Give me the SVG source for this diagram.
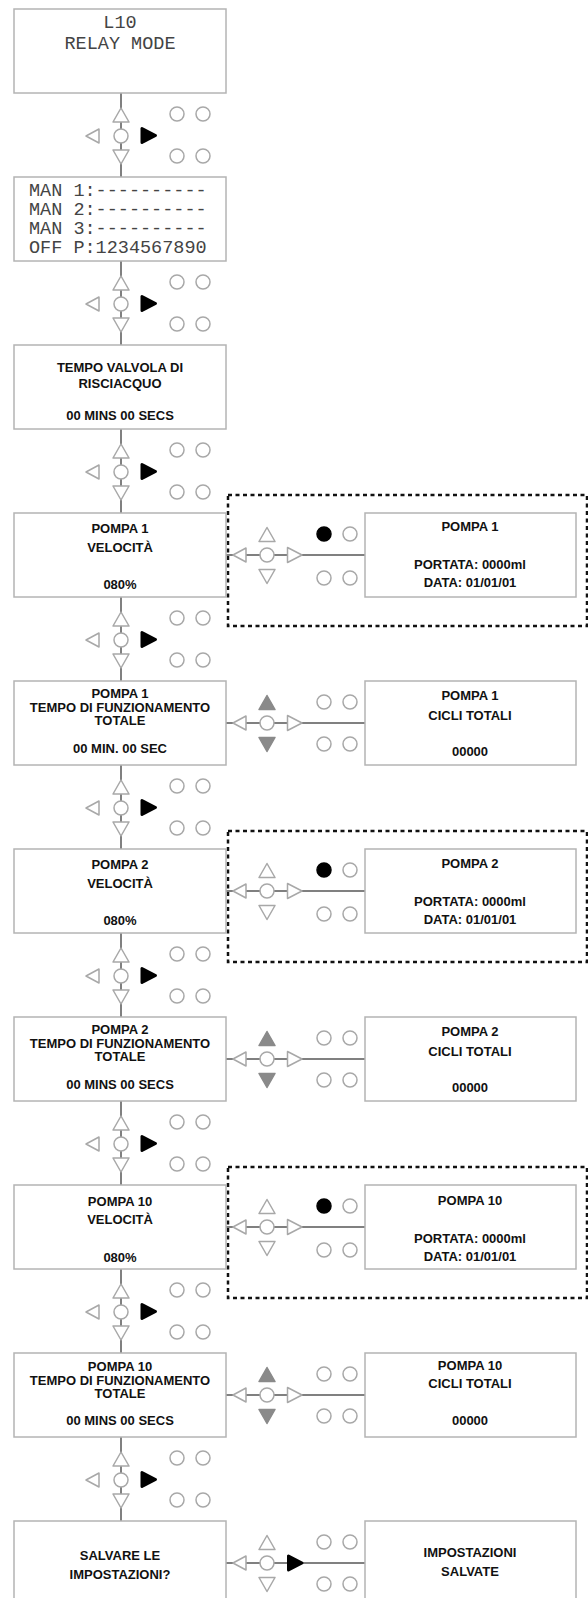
<svg xmlns="http://www.w3.org/2000/svg" xmlns:xlink="http://www.w3.org/1999/xlink" width="588" height="1598" viewBox="0 0 588 1598">
<style>
.box{fill:#fff;stroke:#b4b4b4;stroke-width:1.5}
.dot{fill:none;stroke:#111;stroke-width:2.5;stroke-dasharray:4 3.5}
.ln{stroke:#808080;stroke-width:2;fill:none}
.o{fill:#fff;stroke:#a8a8a8;stroke-width:1.5;stroke-linejoin:round}
.k{fill:#000;stroke:#000;stroke-width:1.5;stroke-linejoin:round}
.kb{fill:#000;stroke:#000;stroke-width:3;stroke-linejoin:round}
.g{fill:#8a8a8a;stroke:#8a8a8a;stroke-width:1.5;stroke-linejoin:round}
.t{font-family:"Liberation Sans",Arial,sans-serif;font-weight:bold;font-size:13px;fill:#111;text-anchor:middle}
.m{font-family:"Liberation Mono","Courier New",monospace;font-size:18.5px;fill:#444;text-anchor:middle}
.ml{font-family:"Liberation Mono","Courier New",monospace;font-size:18.5px;fill:#444}
</style>
<defs>
<path id="tu" d="M0,-7.5 L8,6.5 L-8,6.5 Z"/>
<path id="td" d="M0,7.5 L8,-6.5 L-8,-6.5 Z"/>
<path id="tl" d="M-7,0 L6,-7 L6,7 Z"/>
<path id="tr" d="M7.5,0 L-7,-7.5 L-7,7.5 Z"/>
<path id="trb" d="M7,0 L-6.5,-7 L-6.5,7 Z"/>
<circle id="c" r="7"/>
</defs>

<g id="connectors">
<line class="ln" x1="121" y1="93" x2="121" y2="177"/>
<line class="ln" x1="121" y1="261" x2="121" y2="345"/>
<line class="ln" x1="121" y1="429" x2="121" y2="513"/>
<line class="ln" x1="121" y1="597" x2="121" y2="681"/>
<line class="ln" x1="121" y1="765" x2="121" y2="849"/>
<line class="ln" x1="121" y1="933" x2="121" y2="1017"/>
<line class="ln" x1="121" y1="1101" x2="121" y2="1185"/>
<line class="ln" x1="121" y1="1269" x2="121" y2="1353"/>
<line class="ln" x1="121" y1="1437" x2="121" y2="1521"/>
<line class="ln" x1="226" y1="555" x2="365" y2="555"/>
<line class="ln" x1="226" y1="723" x2="365" y2="723"/>
<line class="ln" x1="226" y1="891" x2="365" y2="891"/>
<line class="ln" x1="226" y1="1059" x2="365" y2="1059"/>
<line class="ln" x1="226" y1="1227" x2="365" y2="1227"/>
<line class="ln" x1="226" y1="1395" x2="365" y2="1395"/>
<line class="ln" x1="226" y1="1563" x2="365" y2="1563"/>
</g>

<g id="dotted-groups">
<rect class="dot" x="228" y="495" width="359" height="131"/>
<rect class="dot" x="228" y="831" width="359" height="131"/>
<rect class="dot" x="228" y="1167" width="359" height="131"/>
</g>

<g id="keypads-vertical">
<g id="kv1" transform="translate(0,93)">
<use href="#tu" class="o" x="121" y="22.5"/><use href="#c" class="o" x="121" y="43"/><use href="#td" class="o" x="121" y="63.5"/>
<use href="#tl" class="o" x="93" y="43"/><use href="#trb" class="kb" x="148.5" y="42.5"/>
<use href="#c" class="o" x="177" y="21"/><use href="#c" class="o" x="203" y="21"/><use href="#c" class="o" x="177" y="63"/><use href="#c" class="o" x="203" y="63"/>
</g>
<g id="kv2" transform="translate(0,261)">
<use href="#tu" class="o" x="121" y="22.5"/><use href="#c" class="o" x="121" y="43"/><use href="#td" class="o" x="121" y="63.5"/>
<use href="#tl" class="o" x="93" y="43"/><use href="#trb" class="kb" x="148.5" y="42.5"/>
<use href="#c" class="o" x="177" y="21"/><use href="#c" class="o" x="203" y="21"/><use href="#c" class="o" x="177" y="63"/><use href="#c" class="o" x="203" y="63"/>
</g>
<g id="kv3" transform="translate(0,429)">
<use href="#tu" class="o" x="121" y="22.5"/><use href="#c" class="o" x="121" y="43"/><use href="#td" class="o" x="121" y="63.5"/>
<use href="#tl" class="o" x="93" y="43"/><use href="#trb" class="kb" x="148.5" y="42.5"/>
<use href="#c" class="o" x="177" y="21"/><use href="#c" class="o" x="203" y="21"/><use href="#c" class="o" x="177" y="63"/><use href="#c" class="o" x="203" y="63"/>
</g>
<g id="kv4" transform="translate(0,597)">
<use href="#tu" class="o" x="121" y="22.5"/><use href="#c" class="o" x="121" y="43"/><use href="#td" class="o" x="121" y="63.5"/>
<use href="#tl" class="o" x="93" y="43"/><use href="#trb" class="kb" x="148.5" y="42.5"/>
<use href="#c" class="o" x="177" y="21"/><use href="#c" class="o" x="203" y="21"/><use href="#c" class="o" x="177" y="63"/><use href="#c" class="o" x="203" y="63"/>
</g>
<g id="kv5" transform="translate(0,765)">
<use href="#tu" class="o" x="121" y="22.5"/><use href="#c" class="o" x="121" y="43"/><use href="#td" class="o" x="121" y="63.5"/>
<use href="#tl" class="o" x="93" y="43"/><use href="#trb" class="kb" x="148.5" y="42.5"/>
<use href="#c" class="o" x="177" y="21"/><use href="#c" class="o" x="203" y="21"/><use href="#c" class="o" x="177" y="63"/><use href="#c" class="o" x="203" y="63"/>
</g>
<g id="kv6" transform="translate(0,933)">
<use href="#tu" class="o" x="121" y="22.5"/><use href="#c" class="o" x="121" y="43"/><use href="#td" class="o" x="121" y="63.5"/>
<use href="#tl" class="o" x="93" y="43"/><use href="#trb" class="kb" x="148.5" y="42.5"/>
<use href="#c" class="o" x="177" y="21"/><use href="#c" class="o" x="203" y="21"/><use href="#c" class="o" x="177" y="63"/><use href="#c" class="o" x="203" y="63"/>
</g>
<g id="kv7" transform="translate(0,1101)">
<use href="#tu" class="o" x="121" y="22.5"/><use href="#c" class="o" x="121" y="43"/><use href="#td" class="o" x="121" y="63.5"/>
<use href="#tl" class="o" x="93" y="43"/><use href="#trb" class="kb" x="148.5" y="42.5"/>
<use href="#c" class="o" x="177" y="21"/><use href="#c" class="o" x="203" y="21"/><use href="#c" class="o" x="177" y="63"/><use href="#c" class="o" x="203" y="63"/>
</g>
<g id="kv8" transform="translate(0,1269)">
<use href="#tu" class="o" x="121" y="22.5"/><use href="#c" class="o" x="121" y="43"/><use href="#td" class="o" x="121" y="63.5"/>
<use href="#tl" class="o" x="93" y="43"/><use href="#trb" class="kb" x="148.5" y="42.5"/>
<use href="#c" class="o" x="177" y="21"/><use href="#c" class="o" x="203" y="21"/><use href="#c" class="o" x="177" y="63"/><use href="#c" class="o" x="203" y="63"/>
</g>
<g id="kv9" transform="translate(0,1437)">
<use href="#tu" class="o" x="121" y="22.5"/><use href="#c" class="o" x="121" y="43"/><use href="#td" class="o" x="121" y="63.5"/>
<use href="#tl" class="o" x="93" y="43"/><use href="#trb" class="kb" x="148.5" y="42.5"/>
<use href="#c" class="o" x="177" y="21"/><use href="#c" class="o" x="203" y="21"/><use href="#c" class="o" x="177" y="63"/><use href="#c" class="o" x="203" y="63"/>
</g>
</g>

<g id="keypads-horizontal">
<g id="kh3" transform="translate(0,555)">
<use href="#tl" class="o" x="240" y="0"/><use href="#c" class="o" x="267" y="0"/><use href="#tr" class="o" x="294.5" y="0"/>
<use href="#tu" class="o" x="267" y="-20"/><use href="#td" class="o" x="267" y="21"/>
<use href="#c" class="k" x="324" y="-21"/><use href="#c" class="o" x="350" y="-21"/><use href="#c" class="o" x="324" y="23"/><use href="#c" class="o" x="350" y="23"/>
</g>
<g id="kh4" transform="translate(0,723)">
<use href="#tl" class="o" x="240" y="0"/><use href="#c" class="o" x="267" y="0"/><use href="#tr" class="o" x="294.5" y="0"/>
<use href="#tu" class="g" x="267" y="-20"/><use href="#td" class="g" x="267" y="21"/>
<use href="#c" class="o" x="324" y="-21"/><use href="#c" class="o" x="350" y="-21"/><use href="#c" class="o" x="324" y="21"/><use href="#c" class="o" x="350" y="21"/>
</g>
<g id="kh5" transform="translate(0,891)">
<use href="#tl" class="o" x="240" y="0"/><use href="#c" class="o" x="267" y="0"/><use href="#tr" class="o" x="294.5" y="0"/>
<use href="#tu" class="o" x="267" y="-20"/><use href="#td" class="o" x="267" y="21"/>
<use href="#c" class="k" x="324" y="-21"/><use href="#c" class="o" x="350" y="-21"/><use href="#c" class="o" x="324" y="23"/><use href="#c" class="o" x="350" y="23"/>
</g>
<g id="kh6" transform="translate(0,1059)">
<use href="#tl" class="o" x="240" y="0"/><use href="#c" class="o" x="267" y="0"/><use href="#tr" class="o" x="294.5" y="0"/>
<use href="#tu" class="g" x="267" y="-20"/><use href="#td" class="g" x="267" y="21"/>
<use href="#c" class="o" x="324" y="-21"/><use href="#c" class="o" x="350" y="-21"/><use href="#c" class="o" x="324" y="21"/><use href="#c" class="o" x="350" y="21"/>
</g>
<g id="kh7" transform="translate(0,1227)">
<use href="#tl" class="o" x="240" y="0"/><use href="#c" class="o" x="267" y="0"/><use href="#tr" class="o" x="294.5" y="0"/>
<use href="#tu" class="o" x="267" y="-20"/><use href="#td" class="o" x="267" y="21"/>
<use href="#c" class="k" x="324" y="-21"/><use href="#c" class="o" x="350" y="-21"/><use href="#c" class="o" x="324" y="23"/><use href="#c" class="o" x="350" y="23"/>
</g>
<g id="kh8" transform="translate(0,1395)">
<use href="#tl" class="o" x="240" y="0"/><use href="#c" class="o" x="267" y="0"/><use href="#tr" class="o" x="294.5" y="0"/>
<use href="#tu" class="g" x="267" y="-20"/><use href="#td" class="g" x="267" y="21"/>
<use href="#c" class="o" x="324" y="-21"/><use href="#c" class="o" x="350" y="-21"/><use href="#c" class="o" x="324" y="21"/><use href="#c" class="o" x="350" y="21"/>
</g>
<g id="kh9" transform="translate(0,1563)">
<use href="#tl" class="o" x="240" y="0"/><use href="#c" class="o" x="267" y="0"/><use href="#trb" class="kb" x="295" y="0"/>
<use href="#tu" class="o" x="267" y="-20"/><use href="#td" class="o" x="267" y="21"/>
<use href="#c" class="o" x="324" y="-21"/><use href="#c" class="o" x="350" y="-21"/><use href="#c" class="o" x="324" y="21"/><use href="#c" class="o" x="350" y="21"/>
</g>
</g>

<g id="n-relay-mode">
<rect class="box" x="14" y="9" width="212" height="84"/>
<text class="m" x="120" y="28">L10</text>
<text class="m" x="120" y="49">RELAY MODE</text>
</g>
<g id="n-man">
<rect class="box" x="14" y="177" width="212" height="84"/>
<text class="ml" x="29" y="196">MAN 1:----------</text>
<text class="ml" x="29" y="215">MAN 2:----------</text>
<text class="ml" x="29" y="234">MAN 3:----------</text>
<text class="ml" x="29" y="253">OFF P:1234567890</text>
</g>
<g id="n-risciacquo">
<rect class="box" x="14" y="345" width="212" height="84"/>
<text class="t" x="120" y="372">TEMPO VALVOLA DI</text>
<text class="t" x="120" y="388">RISCIACQUO</text>
<text class="t" x="120" y="420">00 MINS 00 SECS</text>
</g>
<g id="n-p1-vel">
<rect class="box" x="14" y="513" width="212" height="84"/>
<text class="t" x="120" y="533">POMPA 1</text>
<text class="t" x="120" y="552">VELOCITÀ</text>
<text class="t" x="120" y="589">080%</text>
</g>
<g id="n-p1-portata">
<rect class="box" x="365" y="513" width="211" height="84"/>
<text class="t" x="470" y="531">POMPA 1</text>
<text class="t" x="470" y="569">PORTATA: 0000ml</text>
<text class="t" x="470" y="587">DATA: 01/01/01</text>
</g>
<g id="n-p1-tempo">
<rect class="box" x="14" y="681" width="212" height="84"/>
<text class="t" x="120" y="698">POMPA 1</text>
<text class="t" x="120" y="712">TEMPO DI FUNZIONAMENTO</text>
<text class="t" x="120" y="725">TOTALE</text>
<text class="t" x="120" y="753">00 MIN. 00 SEC</text>
</g>
<g id="n-p1-cicli">
<rect class="box" x="365" y="681" width="211" height="84"/>
<text class="t" x="470" y="700">POMPA 1</text>
<text class="t" x="470" y="720">CICLI TOTALI</text>
<text class="t" x="470" y="756">00000</text>
</g>
<g id="n-p2-vel">
<rect class="box" x="14" y="849" width="212" height="84"/>
<text class="t" x="120" y="869">POMPA 2</text>
<text class="t" x="120" y="888">VELOCITÀ</text>
<text class="t" x="120" y="925">080%</text>
</g>
<g id="n-p2-portata">
<rect class="box" x="365" y="849" width="211" height="84"/>
<text class="t" x="470" y="868">POMPA 2</text>
<text class="t" x="470" y="906">PORTATA: 0000ml</text>
<text class="t" x="470" y="924">DATA: 01/01/01</text>
</g>
<g id="n-p2-tempo">
<rect class="box" x="14" y="1017" width="212" height="84"/>
<text class="t" x="120" y="1034">POMPA 2</text>
<text class="t" x="120" y="1048">TEMPO DI FUNZIONAMENTO</text>
<text class="t" x="120" y="1061">TOTALE</text>
<text class="t" x="120" y="1089">00 MINS 00 SECS</text>
</g>
<g id="n-p2-cicli">
<rect class="box" x="365" y="1017" width="211" height="84"/>
<text class="t" x="470" y="1036">POMPA 2</text>
<text class="t" x="470" y="1056">CICLI TOTALI</text>
<text class="t" x="470" y="1092">00000</text>
</g>
<g id="n-p10-vel">
<rect class="box" x="14" y="1185" width="212" height="84"/>
<text class="t" x="120" y="1206">POMPA 10</text>
<text class="t" x="120" y="1224">VELOCITÀ</text>
<text class="t" x="120" y="1262">080%</text>
</g>
<g id="n-p10-portata">
<rect class="box" x="365" y="1185" width="211" height="84"/>
<text class="t" x="470" y="1205">POMPA 10</text>
<text class="t" x="470" y="1243">PORTATA: 0000ml</text>
<text class="t" x="470" y="1261">DATA: 01/01/01</text>
</g>
<g id="n-p10-tempo">
<rect class="box" x="14" y="1353" width="212" height="84"/>
<text class="t" x="120" y="1371">POMPA 10</text>
<text class="t" x="120" y="1385">TEMPO DI FUNZIONAMENTO</text>
<text class="t" x="120" y="1398">TOTALE</text>
<text class="t" x="120" y="1425">00 MINS 00 SECS</text>
</g>
<g id="n-p10-cicli">
<rect class="box" x="365" y="1353" width="211" height="84"/>
<text class="t" x="470" y="1370">POMPA 10</text>
<text class="t" x="470" y="1388">CICLI TOTALI</text>
<text class="t" x="470" y="1425">00000</text>
</g>
<g id="n-salvare">
<rect class="box" x="14" y="1521" width="212" height="90"/>
<text class="t" x="120" y="1560">SALVARE LE</text>
<text class="t" x="120" y="1579">IMPOSTAZIONI?</text>
</g>
<g id="n-salvate">
<rect class="box" x="365" y="1521" width="211" height="90"/>
<text class="t" x="470" y="1557">IMPOSTAZIONI</text>
<text class="t" x="470" y="1576">SALVATE</text>
</g>
</svg>
